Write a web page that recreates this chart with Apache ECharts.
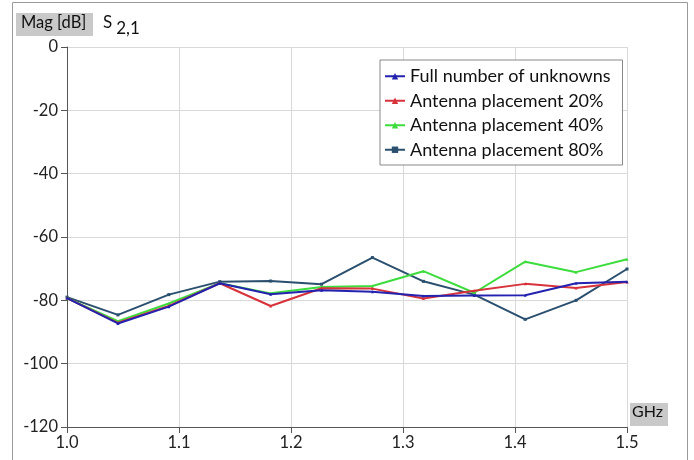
<!DOCTYPE html>
<html>
<head>
<meta charset="utf-8">
<script src="https://cdn.jsdelivr.net/npm/echarts@6/dist/echarts.min.js"></script>
<style>
  html, body { margin: 0; padding: 0; background: #fff; }
  #chart { width: 694px; height: 460px; }
</style>
</head>
<body>
<div id="chart"></div>
<script>
// Frequency sweep: 12 points from 1.0 to 1.5 GHz
const freqGHz = [1.0, 1.0455, 1.0909, 1.1364, 1.1818, 1.2273, 1.2727, 1.3182, 1.3636, 1.4091, 1.4545, 1.5];

// |S2,1| in dB for each solver configuration
const fullUnknowns = [-79.3, -87.3, -82.0, -74.6, -78.1, -76.8, -77.3, -78.6, -78.5, -78.4, -74.6, -74.1];
const placement20  = [-79.3, -87.1, -81.8, -74.6, -81.8, -76.2, -76.3, -79.4, -77.0, -74.8, -76.1, -74.2];
const placement40  = [-79.3, -86.6, -81.0, -74.6, -77.8, -75.8, -75.5, -70.8, -77.6, -67.8, -71.1, -67.0];
const placement80  = [-79.0, -84.6, -78.2, -74.1, -73.9, -74.9, -66.5, -74.0, -78.2, -86.0, -80.0, -70.1];

const seriesNames = [
  'Full number of unknowns',
  'Antenna placement 20%',
  'Antenna placement 40%',
  'Antenna placement 80%'
];
const seriesColors = ['#2323b0', '#d8323a', '#3ddc3d', '#2b4f6e'];
const seriesData = [fullUnknowns, placement20, placement40, placement80];
const drawOrder = [6, 5, 4, 3]; // full on top, 80% at the bottom

const yTicks = { min: -120, max: 0, step: 20 };
const xTicks = { min: 1.0, max: 1.5, step: 0.1 };

const FONT = 'Lato, "Open Sans", sans-serif';

const chart = echarts.init(document.getElementById('chart'), null, { renderer: 'canvas' });

const series = seriesData.map((vals, i) => ({
  name: seriesNames[i],
  type: 'line',
  data: vals.map((v, k) => [freqGHz[k], v]),
  symbol: i === 3 ? 'rect' : 'triangle',
  symbolSize: 3,
  showSymbol: true,
  lineStyle: { width: 2, color: seriesColors[i] },
  itemStyle: { color: seriesColors[i] },
  z: drawOrder[i],
  animation: false
}));

chart.setOption({
  backgroundColor: '#fff',
  animation: false,
  grid: { left: 67, right: 67, top: 47, bottom: 33, containLabel: false },
  xAxis: {
    type: 'value',
    min: xTicks.min, max: xTicks.max, interval: xTicks.step,
    axisLine: { show: true, onZero: false, lineStyle: { color: '#555', width: 1 } },
    axisTick: { show: true, length: 6, inside: false, lineStyle: { color: '#555' } },
    axisLabel: {
      color: '#222', fontSize: 16.5, fontFamily: FONT, margin: 7,
      formatter: v => v.toFixed(1)
    },
    splitLine: { show: true, lineStyle: { color: '#d9d9d9', width: 1 } }
  },
  yAxis: {
    type: 'value',
    min: yTicks.min, max: yTicks.max, interval: yTicks.step,
    axisLine: { show: true, onZero: false, lineStyle: { color: '#555', width: 1 } },
    axisTick: { show: true, length: 6, inside: false, lineStyle: { color: '#555' } },
    axisLabel: { color: '#222', fontSize: 16.5, fontFamily: FONT, margin: 9 },
    splitLine: { show: true, lineStyle: { color: '#d9d9d9', width: 1 } }
  },
  legend: {
    show: true,
    orient: 'vertical',
    left: 380, top: 60,
    padding: [7, 12, 6, 4],
    itemGap: 6,
    itemWidth: 20, itemHeight: 8,
    backgroundColor: '#fff',
    borderColor: '#888', borderWidth: 1,
    textStyle: { color: '#111', fontSize: 18, fontFamily: FONT, lineHeight: 18.5 },
    data: seriesNames.map(n => ({ name: n }))
  },
  graphic: [
    // outer frame
    { type: 'rect', shape: { x: 12.5, y: 2.5, width: 675, height: 470 },
      style: { fill: 'none', stroke: '#9a9a9a', lineWidth: 1 }, silent: true, z: -1 },
    // y-axis unit box
    { type: 'rect', shape: { x: 16, y: 13, width: 77, height: 23 },
      style: { fill: '#c9c9c9' }, silent: true },
    { type: 'text', left: 21, top: 14,
      style: { text: 'Mag [dB]', fontSize: 16.5, fontFamily: FONT, fill: '#111' } },
    { type: 'text', left: 103, top: 14,
      style: {
        text: '{s|S}{sub|2,1}',
        rich: {
          s: { fontSize: 17, fontFamily: FONT, fill: '#111', padding: [0, 4, 5, 0] },
          sub: { fontSize: 17, fontFamily: FONT, fill: '#111', padding: [8, 0, 0, 0] }
        }
      } },
    // x-axis unit box
    { type: 'rect', shape: { x: 630, y: 403, width: 38, height: 23 },
      style: { fill: '#c9c9c9' }, silent: true },
    { type: 'text', left: 632, top: 404,
      style: { text: 'GHz', fontSize: 16, fontFamily: FONT, fill: '#111' } }
  ],
  series: series
});
</script>
</body>
</html>
